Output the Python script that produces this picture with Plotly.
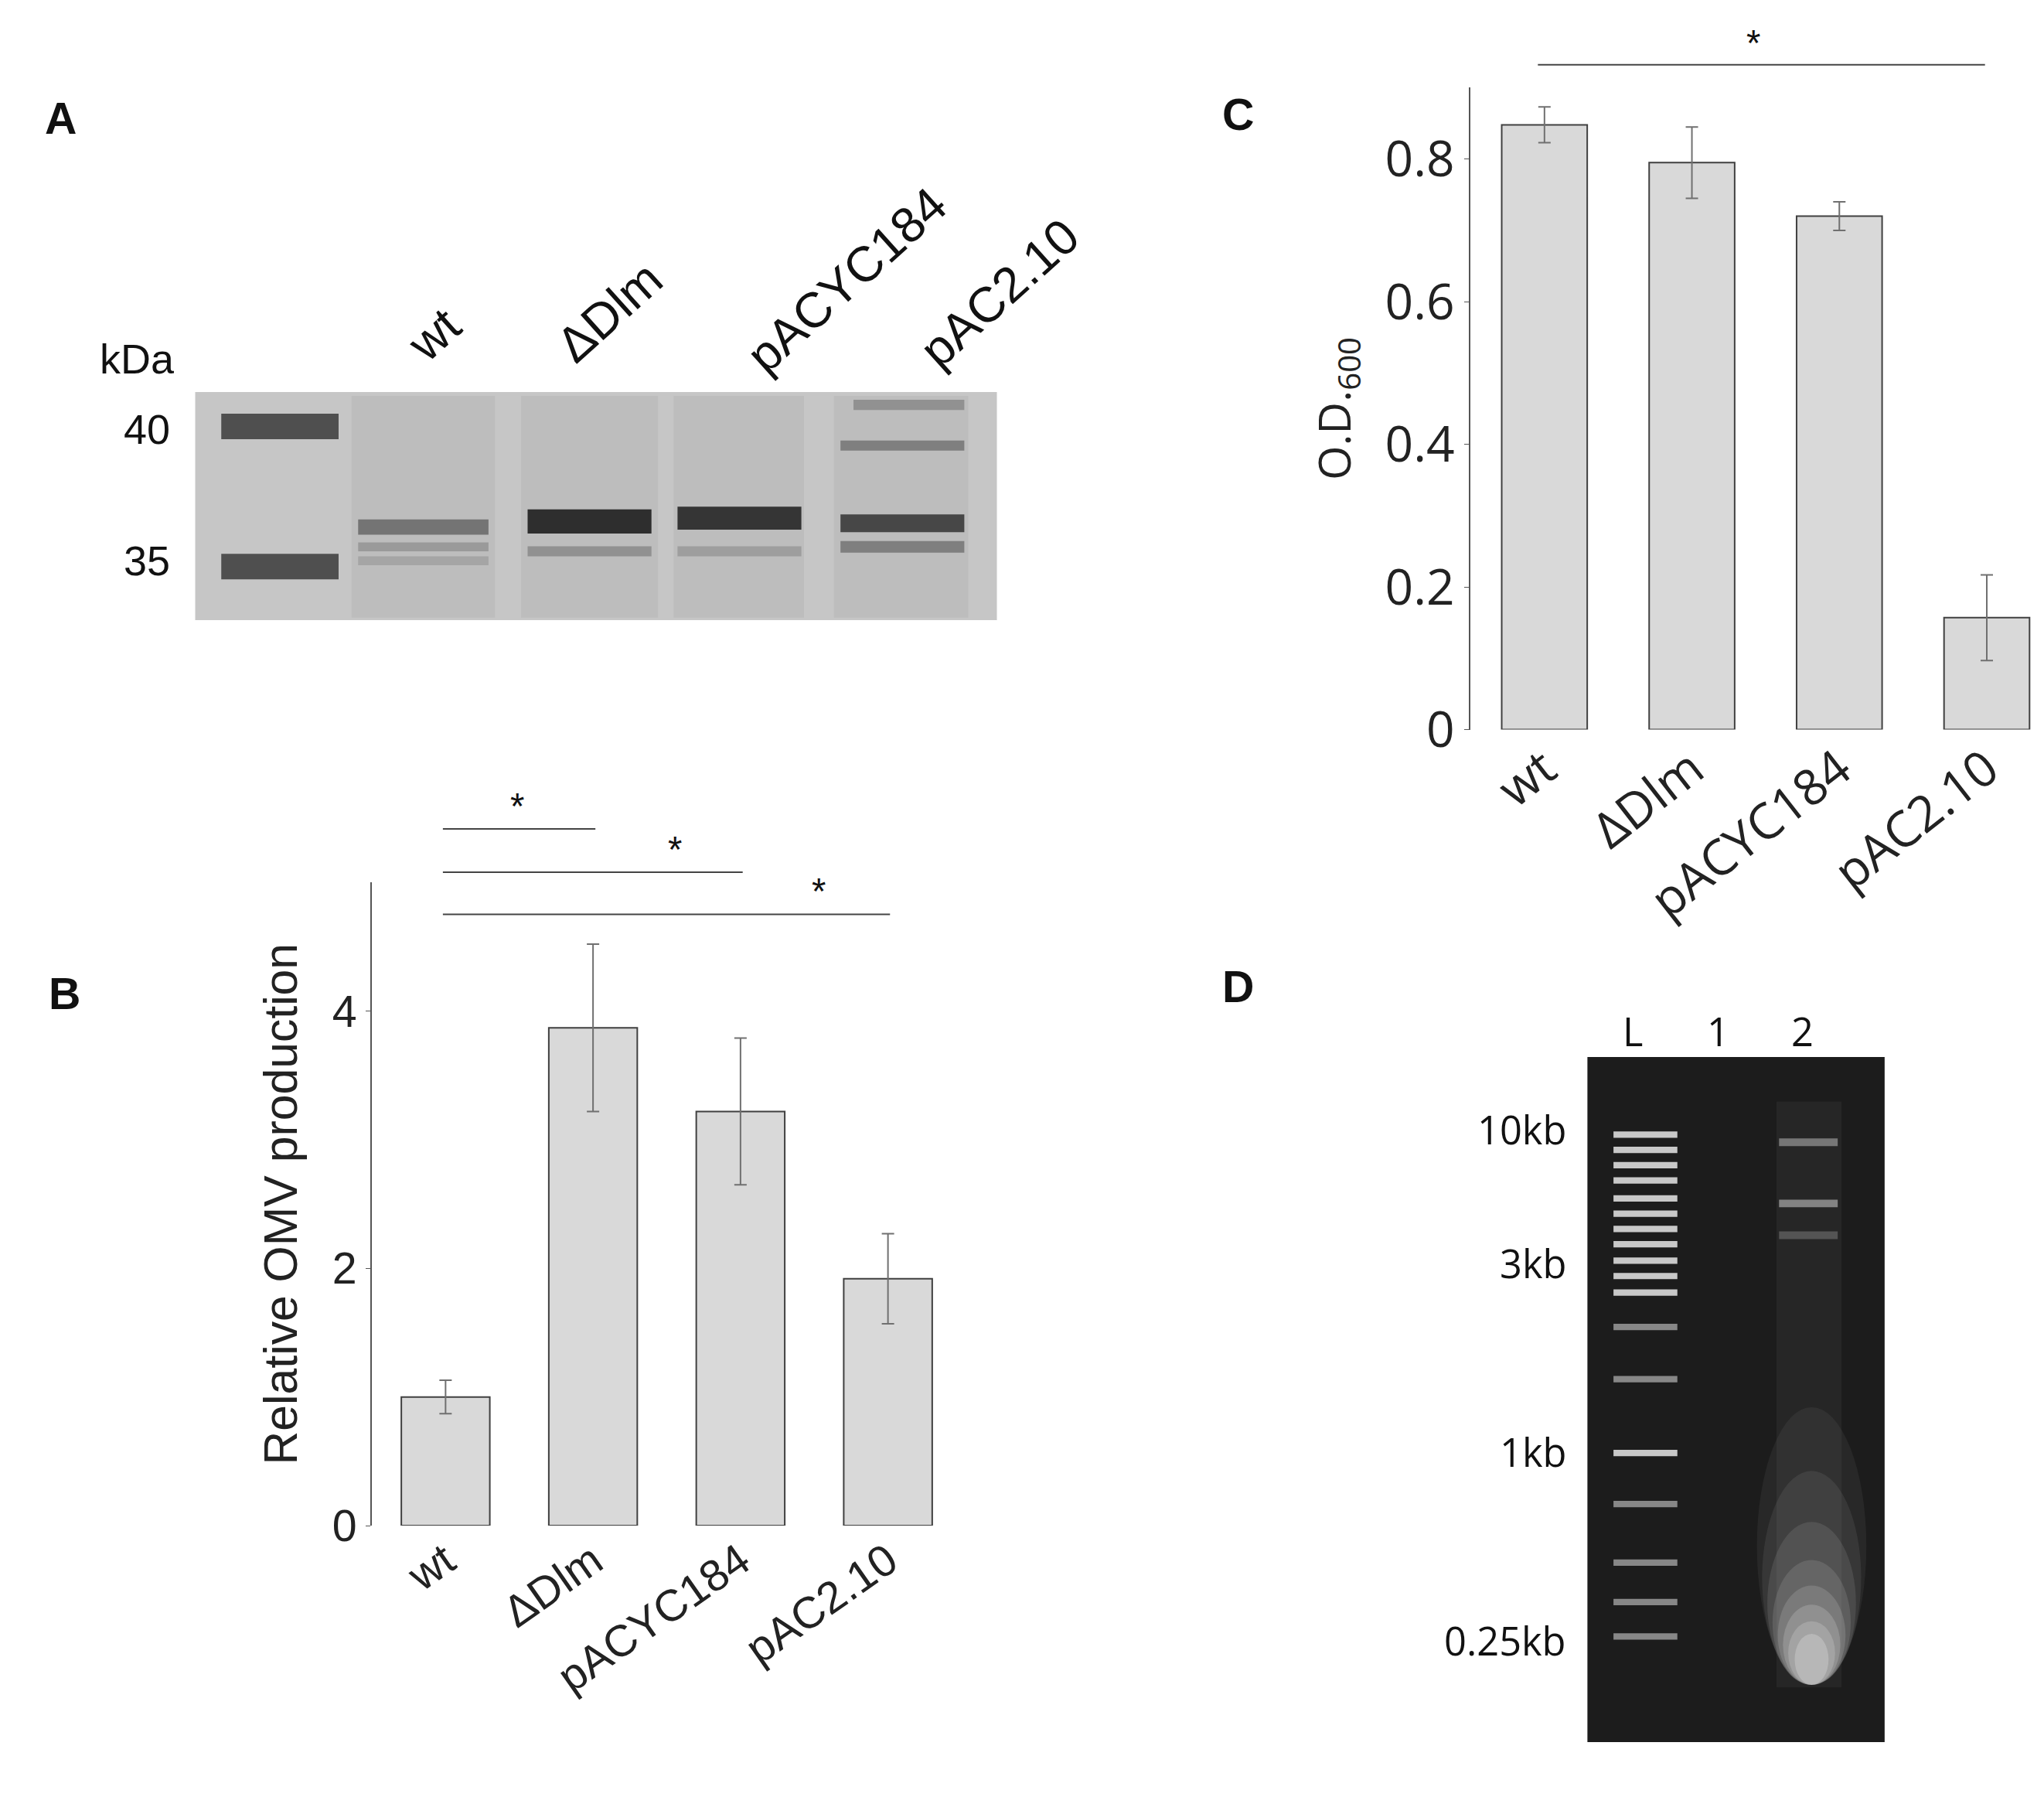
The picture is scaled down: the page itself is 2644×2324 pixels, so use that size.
import plotly.graph_objects as go

cats = ["wt", "ΔDlm", "pACYC184", "pAC2.10"]
omv = [1.0, 3.87, 3.22, 1.92]
omv_err = [0.13, 0.65, 0.57, 0.35]
od = [0.848, 0.795, 0.72, 0.157]
od_err = [0.025, 0.05, 0.02, 0.06]
ladder_kda = ["40", "35"]
dna_labels = ["10kb", "3kb", "1kb", "0.25kb"]

S = 2644 / 1568
def px(x): return x / 1568
def py(y): return 1 - y / 1386
def fs(v): return v * S

fig = go.Figure()
bar_style = dict(marker=dict(color="#d9d9d9", line=dict(color="#404040", width=2)), showlegend=False)
err_style = dict(type="data", color="#707070", thickness=2, width=8)
fig.add_bar(x=cats, y=omv, error_y=dict(array=omv_err, **err_style), width=0.6, xaxis="x", yaxis="y", **bar_style)
fig.add_bar(x=cats, y=od, error_y=dict(array=od_err, **err_style), width=0.58, xaxis="x2", yaxis="y2", **bar_style)

axfont_b = dict(family="Liberation Sans, Arial", size=fs(34), color="#222")
axfont_c = dict(family="Open Sans, Calibri", size=fs(38), color="#222")
fig.update_layout(
    width=2644, height=2324, margin=dict(l=0, r=0, t=0, b=0),
    paper_bgcolor="white", plot_bgcolor="white",
    xaxis=dict(domain=[px(280.5), px(733)], range=[-0.5, 3.5], tickangle=-35, tickfont=axfont_b, showline=False, ticks="", anchor="y"),
    yaxis=dict(domain=[py(1193), py(688)], range=[0, 5], tickvals=[0, 2, 4], ticktext=["0", "2", "4"], tickfont=axfont_b, showline=True,
               linecolor="#555", linewidth=2, showgrid=False, zeroline=False, ticks="outside", ticklen=6, tickcolor="#555", anchor="x",
               title=dict(text="Relative OMV production", font=dict(family="Liberation Sans, Arial", size=fs(36), color="#222"), standoff=25)),
    xaxis2=dict(domain=[px(1123.5), 1.0], range=[-0.5, 3.43], tickangle=-38, tickfont=axfont_c, showline=False, ticks="", anchor="y2"),
    yaxis2=dict(domain=[py(568), py(64)], range=[0, 0.9], tickvals=[0, 0.2, 0.4, 0.6, 0.8], ticktext=["0", "0.2", "0.4", "0.6", "0.8"],
                tickfont=axfont_c, showline=True, linecolor="#555", linewidth=2, showgrid=False, zeroline=False,
                ticks="outside", ticklen=6, tickcolor="#555", anchor="x2",
                title=dict(text="O.D.<sub>600</sub>", font=dict(family="Open Sans, Calibri", size=fs(34), color="#222"), standoff=25)),
)

shapes = []
ann = []
def line(x0, y0, x1, y1, color="#444", w=2):
    shapes.append(dict(type="line", xref="paper", yref="paper", x0=px(x0), y0=py(y0), x1=px(x1), y1=py(y1), line=dict(color=color, width=w)))
def rect(x0, y0, x1, y1, color, opacity=1):
    shapes.append(dict(type="rect", xref="paper", yref="paper", x0=px(x0), y0=py(y0), x1=px(x1), y1=py(y1), fillcolor=color, opacity=opacity, line=dict(width=0), layer="below"))
def ell(x0, y0, x1, y1, color, opacity=1):
    shapes.append(dict(type="circle", xref="paper", yref="paper", x0=px(x0), y0=py(y0), x1=px(x1), y1=py(y1), fillcolor=color, opacity=opacity, line=dict(width=0), layer="below"))
def text(x, y, t, size, angle=0, bold=False, family="Liberation Sans, Arial", color="#111", xanchor="center"):
    ann.append(dict(x=px(x), y=py(y), xref="paper", yref="paper", text=f"<b>{t}</b>" if bold else t, showarrow=False,
                    textangle=angle, font=dict(size=fs(size), family=family, color=color), xanchor=xanchor, yanchor="middle"))

# significance marks
line(335, 646, 452, 646); text(392, 628, "*", 28)
line(335, 680, 565, 680); text(513, 662, "*", 28)
line(335, 713, 678, 713); text(623, 695, "*", 28)
line(1175, 46, 1518, 46); text(1340, 29, "*", 28)

# panel letters
for (x, y, t) in [(42, 88, "A"), (45, 775, "B"), (945, 85, "C"), (945, 770, "D")]:
    text(x, y, t, 34, bold=True)

# Gel A
rect(145, 303, 760, 482, "#c6c6c6")
for x0, x1 in [(265, 375), (395, 500), (512, 612), (635, 738)]:
    rect(x0, 306, x1, 480, "#bdbdbd")
rect(165, 320, 255, 340, "#3a3a3a", 0.85)
rect(165, 430, 255, 450, "#3a3a3a", 0.85)
rect(270, 403, 370, 415, "#555", 0.7)
rect(270, 421, 370, 428, "#777", 0.5)
rect(270, 432, 370, 439, "#888", 0.45)
rect(400, 395, 495, 414, "#1e1e1e", 0.9)
rect(400, 424, 495, 432, "#666", 0.5)
rect(515, 393, 610, 411, "#262626", 0.9)
rect(515, 424, 610, 432, "#777", 0.45)
rect(640, 399, 735, 413, "#333", 0.85)
rect(640, 420, 735, 429, "#555", 0.6)
rect(640, 341, 735, 349, "#555", 0.6)
rect(650, 309, 735, 317, "#666", 0.5)
text(100, 277, "kDa", 32); text(108, 332, ladder_kda[0], 32); text(108, 435, ladder_kda[1], 32)
for (x, y, t) in [(328, 258, "wt"), (463, 240, "ΔDlm"), (645, 215, "pACYC184"), (762, 225, "pAC2.10")]:
    text(x, y, t, 38, angle=-42)

# Gel D
rect(1213, 825, 1441, 1363, "#1c1c1c")
for y in [886, 898, 910, 922, 936, 948, 960, 972, 985, 997, 1010, 1037, 1078, 1136, 1176, 1222, 1253, 1280]:
    bright = "#e6e6e6" if y < 1012 or y == 1136 else "#9a9a9a"
    rect(1233, y - 2.5, 1282, y + 2.5, bright, 0.85)
for y, op in [(892, 0.6), (940, 0.7), (965, 0.35)]:
    rect(1360, y - 3, 1405, y + 3, "#cfcfcf", op)
rect(1358, 860, 1408, 1320, "#444", 0.25)
for (w, h, op) in [(42, 200, 0.06), (38, 150, 0.08), (34, 110, 0.1), (30, 80, 0.12), (26, 60, 0.15), (22, 45, 0.18), (18, 32, 0.2), (13, 22, 0.25)]:
    ell(1385 - w, 1300 - h, 1385 + w, 1318, "#f2f2f2", op)
text(1248, 805, "L", 30, family="Open Sans"); text(1313, 805, "1", 30, family="Open Sans"); text(1378, 805, "2", 30, family="Open Sans")
for (y, t) in zip([882, 987, 1135, 1283], dna_labels):
    text(1198, y, t, 30, family="Open Sans", xanchor="right")

fig.update_layout(shapes=shapes, annotations=ann)
fig.write_html("out.html")
